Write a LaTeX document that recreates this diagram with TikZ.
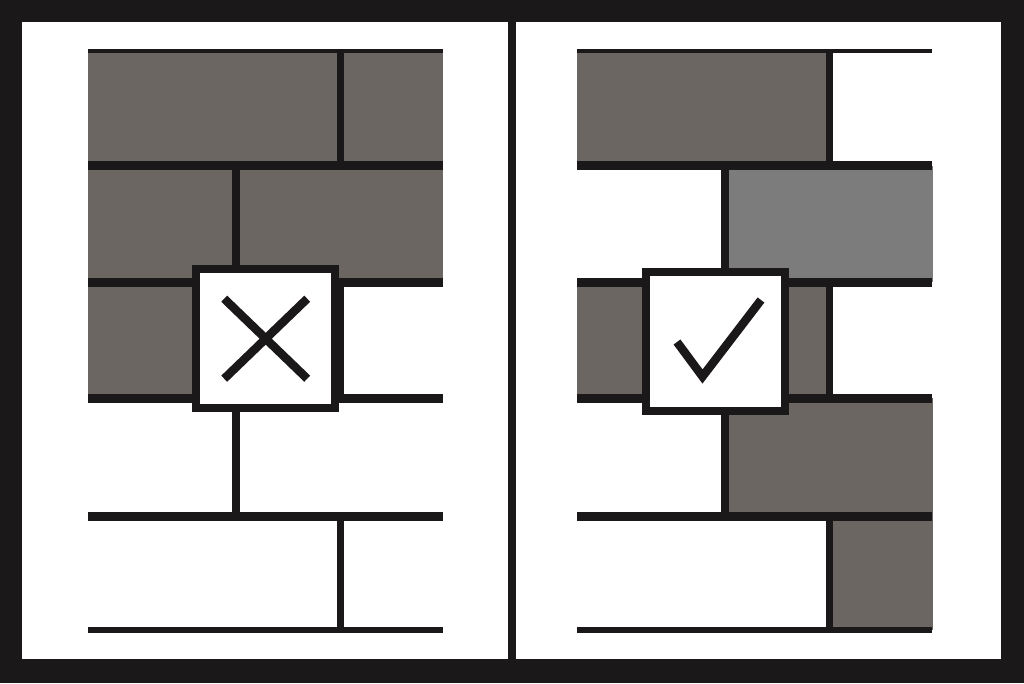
\documentclass[tikz,border=0pt]{standalone}
\usepackage{tikz}

\definecolor{ink}{HTML}{1A1819}
\definecolor{brickdark}{HTML}{6B6661}
\definecolor{bricklight}{HTML}{7C7C7C}

\tikzset{
  mortar/.style={draw=ink, line width=9pt},
  joint/.style={draw=ink, line width=7.5pt},
  markbox/.style={draw=ink, fill=white, line width=7.7pt, minimum size=139pt, inner sep=0pt},
  markline/.style={draw=ink, line width=8.5pt}
}

\begin{document}
\begin{tikzpicture}[x=1pt,y=-1pt]
% frame and panels
\fill[ink] (0,0) rectangle (1024,683);
\fill[white] (22,22) rectangle (508,659);
\fill[white] (516,22) rectangle (1001,659);
% left wall
\fill[brickdark] (88,51.5) rectangle (443,282);
\fill[brickdark] (88,282) rectangle (340.5,398);
% right wall
\fill[brickdark] (577,51.5) rectangle (830.5,165.5);
\fill[bricklight] (726,165.5) rectangle (933,282);
\fill[brickdark] (577,282) rectangle (830.5,398);
\fill[brickdark] (726,398) rectangle (933,516);
\fill[brickdark] (830.5,516) rectangle (933,630);
% mortar of both walls
\foreach \s in {0,489} {
  \draw[draw=ink, line width=4pt] (88+\s,51.3) -- (443+\s,51.3);
  \draw[draw=ink, line width=6pt] (88+\s,630.3) -- (443+\s,630.3);
  \foreach \y in {165.5,282,398,516} {\draw[mortar] (88+\s,\y) -- (443+\s,\y);}
  \foreach \a/\b/\x in {51.5/165.5/340.5, 165.5/282/236, 282/398/340.5, 398/516/236, 516/630/340.5}
    {\draw[joint] (\x+\s,\a) -- (\x+\s,\b);}
}
% marks
\node[markbox] (wrong) at (265.7,338.7) {};
\node[markbox] (right) at (715.2,341.2) {};
\draw[markline] ([shift={(-41.5,-40)}]wrong.center) -- ([shift={(41.5,40)}]wrong.center);
\draw[markline] ([shift={(41.5,-40)}]wrong.center) -- ([shift={(-41.5,40)}]wrong.center);
\draw[markline, miter limit=10] ([shift={(-38.2,0.8)}]right.center) -- ([shift={(-12.7,35.3)}]right.center) -- ([shift={(45.8,-41.2)}]right.center);
\end{tikzpicture}
\end{document}
